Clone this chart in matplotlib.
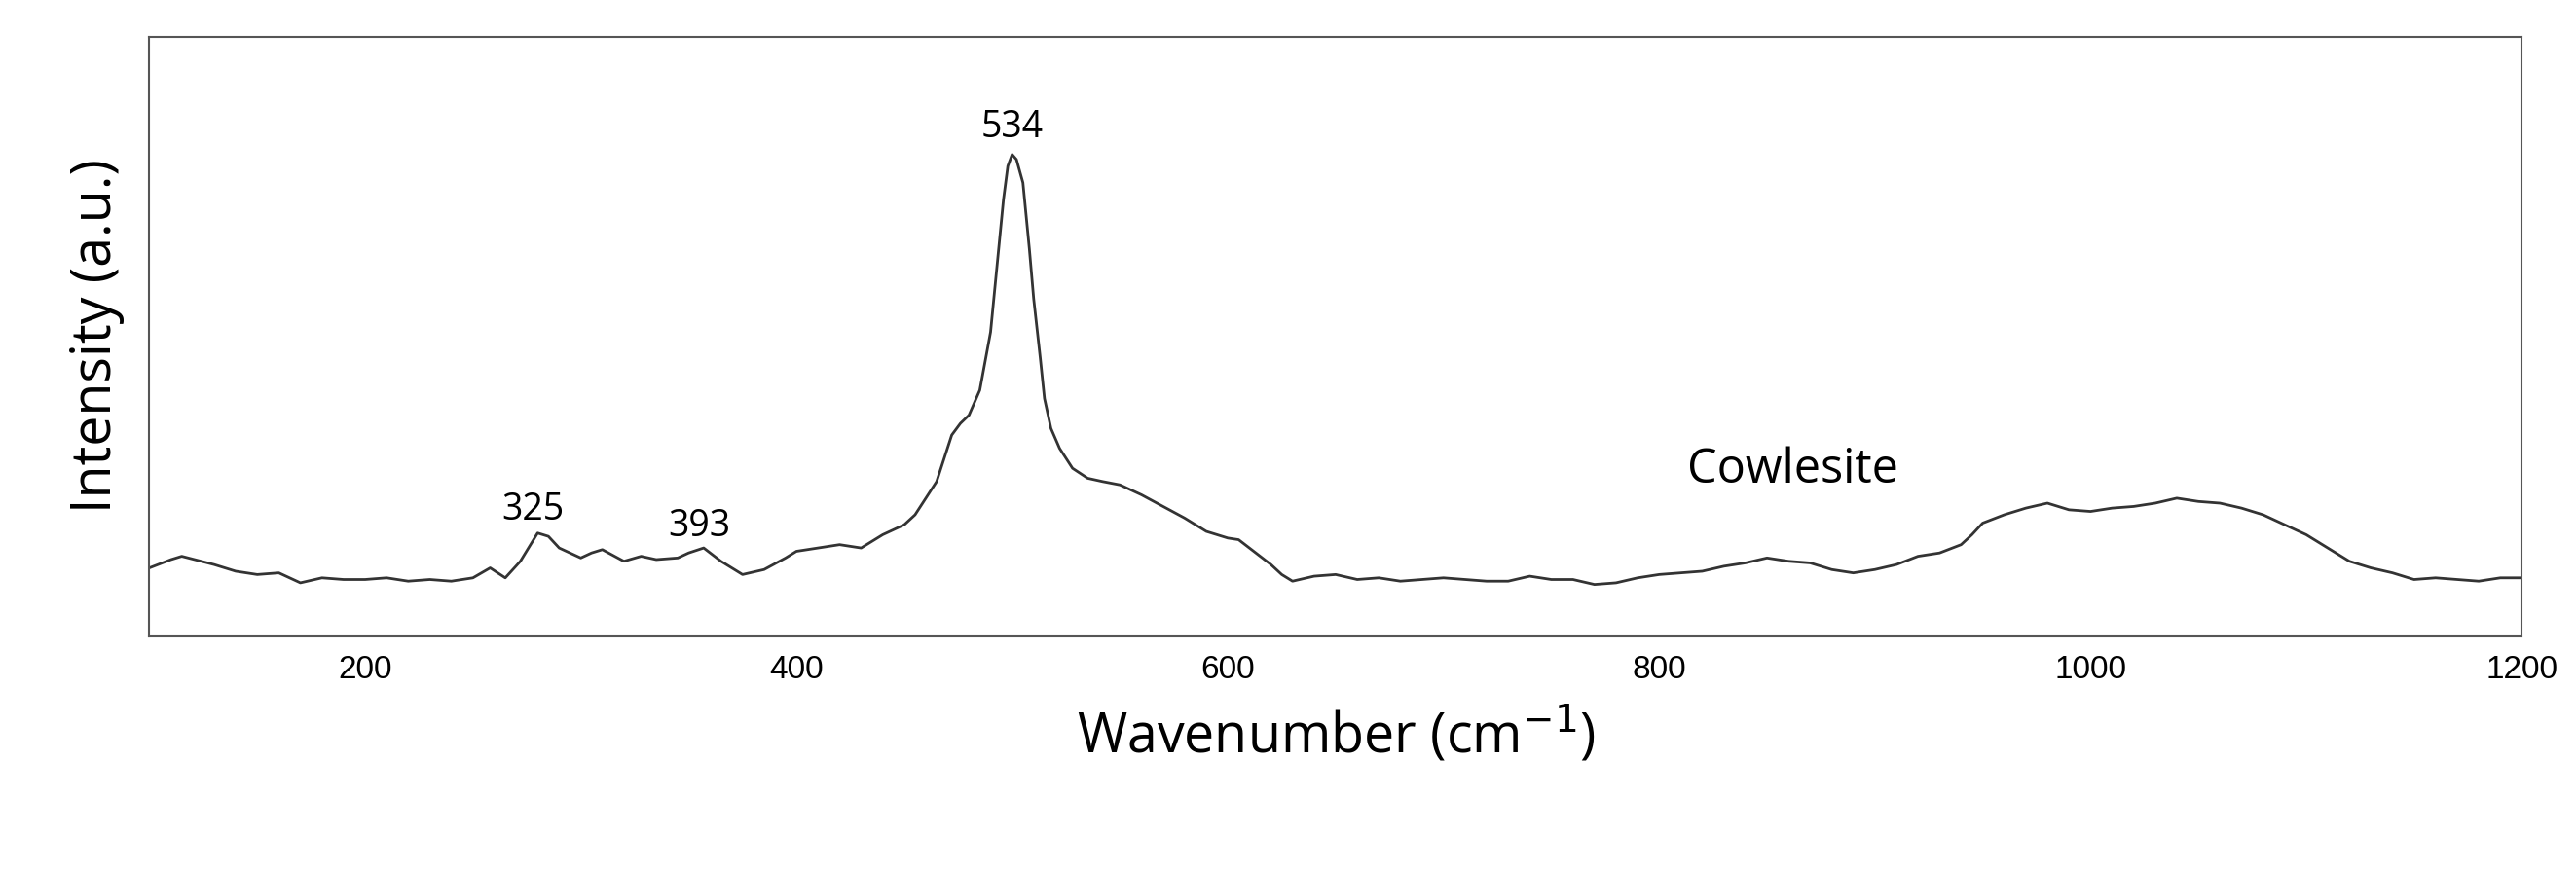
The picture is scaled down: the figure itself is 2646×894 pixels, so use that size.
import matplotlib
matplotlib.use("Agg")
import matplotlib.pyplot as plt
import numpy as np

wavenumber = [100,110,115,130,140,150,160,170,180,190,200,210,220,230,240,250,258,265,272,280,285,290,300,305,310,320,328,335,345,350,357,365,375,385,395,400,410,420,430,440,450,455,460,465,470,472,476,480,485,490,493,496,498,500,502,505,508,510,513,515,518,522,528,535,542,550,560,570,580,590,600,605,612,620,625,630,640,650,660,670,680,690,700,710,720,730,740,750,760,770,780,790,800,810,820,830,840,850,860,870,880,890,900,910,920,930,940,945,950,960,970,980,990,1000,1010,1020,1030,1040,1050,1060,1070,1080,1090,1100,1110,1120,1130,1140,1150,1160,1170,1180,1190,1200]
ypix = [342,337,335,340,344,346,345,351,348,349,349,348,350,349,350,348,342,348,338,321,323,330,336,333,331,338,335,337,336,333,330,338,346,343,336,332,330,328,330,322,316,310,300,290,270,262,255,250,235,200,160,120,100,93,96,110,150,180,215,240,258,270,282,288,290,292,298,305,312,320,324,325,332,340,346,350,347,346,349,348,350,349,348,349,350,350,347,349,349,352,351,348,346,345,344,341,339,336,338,339,343,345,343,340,335,333,328,322,315,310,306,303,307,308,306,305,303,300,302,303,306,310,316,322,330,338,342,345,349,348,349,350,348,348]
intensity = [383 - v for v in ypix]

fig = plt.figure(figsize=(26.46, 8.94), dpi=100)
ax = fig.add_axes([0.058, 0.269, 0.921, 0.689])
ax.plot(wavenumber, intensity, color="#333333", lw=2)
ax.set_xlim(100, 1200)
ax.set_ylim(0, 361)
ax.set_yticks([])
ax.set_xticks([200, 400, 600, 800, 1000, 1200])
ax.tick_params(axis="x", labelsize=24, length=0, pad=14)
for lab in ax.get_xticklabels():
    lab.set_family("Liberation Sans")
for s in ax.spines.values():
    s.set_color("#555555"); s.set_linewidth(1.5)
ax.set_xlabel("Wavenumber (cm$^{-1}$)", fontsize=40, family="Open Sans", labelpad=14)
ax.set_ylabel("Intensity (a.u.)", fontsize=40, family="Open Sans", labelpad=18)
kw = dict(ha="center", va="bottom", family="Open Sans", fontsize=27)
ax.text(500, 295, "534", **kw)
ax.text(278, 65, "325", **kw)
ax.text(355, 55, "393", **kw)
ax.text(862, 85, "Cowlesite", ha="center", va="bottom", family="Open Sans", fontsize=35)
fig.savefig("out.png", dpi=100)
